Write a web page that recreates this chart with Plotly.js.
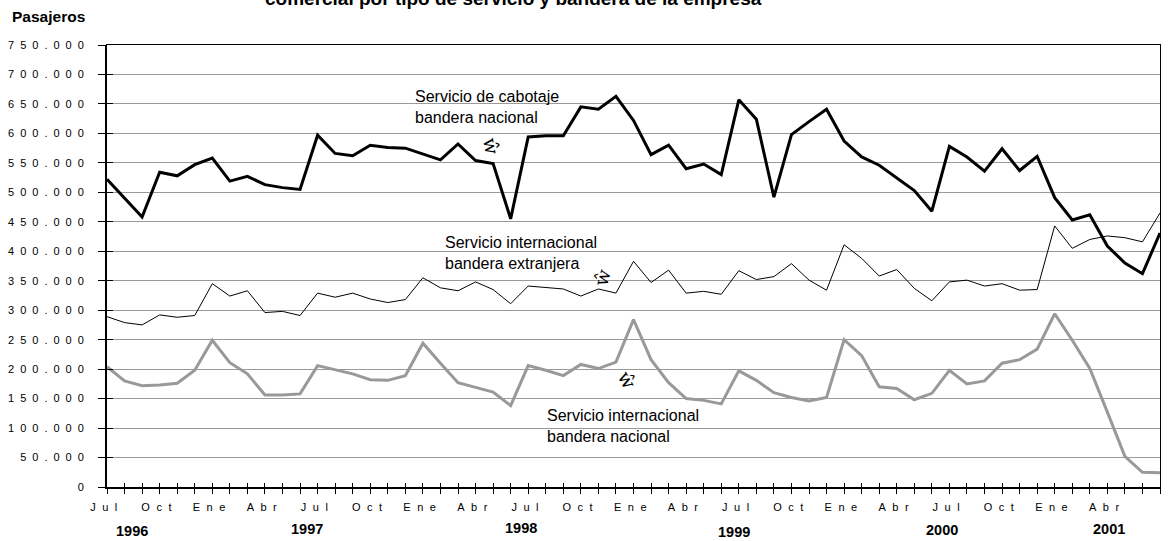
<!DOCTYPE html>
<html>
<head>
<meta charset="utf-8">
<script src="https://cdn.plot.ly/plotly-3.0.1.min.js"></script>
<style>
  html, body { margin:0; padding:0; background:#fff; }
  #chart { width:1172px; height:541px; }
  .xtick text { letter-spacing: 6.5px; }
  .ytick text { letter-spacing: 6px; }
</style>
</head>
<body>
<div id="chart"></div>
<script>
// ---- data (thousands of passengers) ----
// months: Jul 1996 ... Jul 2001 (61 months, index 0..60)
var monthIndex = [];
for (var m = 0; m <= 60; m++) monthIndex.push(m);

var tickPositions = [0,3,6,9,12,15,18,21,24,27,30,33,36,39,42,45,48,51,54,57,60];
var tickLabels = ["Jul","Oct","Ene","Abr","Jul","Oct","Ene","Abr","Jul","Oct","Ene",
                  "Abr","Jul","Oct","Ene","Abr","Jul","Oct","Ene","Abr","Jul"];

var yearLabels = ["1996","1997","1998","1999","2000","2001"];

var cabotajeNacional = [522,490,458,534,528,547,558,519,527,513,508,505,
                        597,566,562,580,576,575,565,555,582,554,549,455,
                        594,596,596,645,641,663,622,564,580,540,548,530,
                        657,624,492,598,620,641,587,560,546,524,503,468,
                        578,560,536,574,537,561,491,453,462,409,380,362,431];

var internacionalExtranjera = [289,279,275,292,288,291,345,324,333,296,298,291,
                               329,322,329,319,313,318,355,338,333,348,335,311,
                               341,338,336,324,336,329,383,347,368,329,332,327,
                               367,352,357,379,351,334,411,388,358,369,337,316,
                               348,351,341,345,334,335,443,405,420,426,423,416,465];

var internacionalNacional = [204,180,172,173,176,198,249,211,192,156,156,158,
                             206,199,192,182,181,189,244,210,177,169,161,138,
                             206,198,189,208,201,212,284,216,177,150,147,141,
                             197,181,160,152,146,152,250,223,170,167,148,159,
                             198,175,180,210,216,234,294,249,201,127,52,25,24];

var yTickValues = [0,50000,100000,150000,200000,250000,300000,350000,
                   400000,450000,500000,550000,600000,650000,700000,750000];

function toPax(arr){ return arr.map(function(v){ return v*1000; }); }
function fmt(v){
  if (v === 0) return "0";
  var s = String(v);
  return s.slice(0, s.length-3) + "." + s.slice(s.length-3);
}

var traces = [
  { x: monthIndex, y: toPax(internacionalNacional), mode:'lines',
    line:{color:'#999999', width:3}, hoverinfo:'skip', showlegend:false },
  { x: monthIndex, y: toPax(internacionalExtranjera), mode:'lines',
    line:{color:'#000000', width:1}, hoverinfo:'skip', showlegend:false },
  { x: monthIndex, y: toPax(cabotajeNacional), mode:'lines',
    line:{color:'#000000', width:3}, hoverinfo:'skip', showlegend:false },
  // helper so the overlay axes (inner half of the crossing ticks) render
  { x: monthIndex, y: toPax(cabotajeNacional), xaxis:'x2', yaxis:'y2', mode:'lines',
    line:{color:'rgba(0,0,0,0)', width:0}, hoverinfo:'skip', showlegend:false }
];

var tickFont = {family:'Liberation Sans, Arial, sans-serif', size:11, color:'#000'};

var yearPos = [1.4, 11.4, 23.6, 35.7, 47.6, 57.1];
var yearY = [-0.1, -0.096, -0.093, -0.102, -0.097, -0.095];

var annotations = [];
for (var k = 0; k < yearLabels.length; k++) {
  annotations.push({ x: yearPos[k], y: yearY[k], xref:'x', yref:'paper',
    text: yearLabels[k], showarrow:false, xanchor:'center', yanchor:'middle',
    font:{family:'Liberation Sans, Arial, sans-serif', size:14.5, weight:'bold', color:'#000'} });
}

var labelFont = {family:'Liberation Sans, Arial, sans-serif', size:16, color:'#000'};
annotations.push({ x:17.45, y:644000, xref:'x', yref:'y', showarrow:false,
  xanchor:'left', yanchor:'middle', align:'left',
  text:'Servicio de cabotaje<br>bandera nacional', font:labelFont });
annotations.push({ x:19.15, y:397000, xref:'x', yref:'y', showarrow:false,
  xanchor:'left', yanchor:'middle', align:'left',
  text:'Servicio internacional<br>bandera extranjera', font:labelFont });
annotations.push({ x:24.95, y:103500, xref:'x', yref:'y', showarrow:false,
  xanchor:'left', yanchor:'middle', align:'left',
  text:'Servicio internacional<br>bandera nacional', font:labelFont });

var symFont = {family:'DejaVu Serif, serif', size:19, color:'#000'};
annotations.push({ x:21.92, y:577500, xref:'x', yref:'y', showarrow:false,
  text:'\u0175', textangle:80, font:symFont });
annotations.push({ x:28.2, y:357000, xref:'x', yref:'y', showarrow:false,
  text:'\u0175', textangle:-75, font:symFont });
annotations.push({ x:29.65, y:182000, xref:'x', yref:'y', showarrow:false,
  text:'\u0175', textangle:60, font:symFont });

annotations.push({ x:-0.0921, y:1.0656, xref:'paper', yref:'paper', showarrow:false,
  xanchor:'left', yanchor:'middle', text:'Pasajeros',
  font:{family:'Liberation Sans, Arial, sans-serif', size:15.5, weight:'bold', color:'#000'} });

annotations.push({ x:0.3865, y:1.105, xref:'paper', yref:'paper', showarrow:false,
  xanchor:'center', yanchor:'middle',
  text:'comercial por tipo de servicio y bandera de la empresa',
  font:{family:'Liberation Sans, Arial, sans-serif', size:19, weight:'bold', color:'#000'} });

var layout = {
  width:1172, height:541,
  margin:{l:107, r:12, t:45, b:54, pad:0},
  paper_bgcolor:'#fff', plot_bgcolor:'#fff',
  showlegend:false,
  xaxis:{
    range:[0,60], tickmode:'array', tickvals:tickPositions, ticktext:tickLabels,
    ticks:'outside', ticklen:5, tickwidth:1, tickcolor:'#000',
    minor:{tickmode:'linear', tick0:0, dtick:1, ticks:'outside', ticklen:5, tickwidth:1, tickcolor:'#000', showgrid:false},
    showline:true, linecolor:'#000', linewidth:2,
    showgrid:false, zeroline:false, tickfont:tickFont, ticklabelstandoff:4, fixedrange:true
  },
  xaxis2:{
    overlaying:'x', anchor:'y', side:'bottom', range:[0,60],
    tickmode:'array', tickvals:tickPositions, showticklabels:false,
    ticks:'inside', ticklen:4, tickwidth:1, tickcolor:'#000',
    minor:{tickmode:'linear', tick0:0, dtick:1, ticks:'inside', ticklen:4, tickwidth:1, tickcolor:'#000', showgrid:false},
    showline:true, mirror:true, linecolor:'#000', linewidth:1,
    showgrid:false, zeroline:false, fixedrange:true
  },
  yaxis:{
    range:[0,750000], tickmode:'array', tickvals:yTickValues, ticktext:yTickValues.map(fmt),
    ticks:'outside', ticklen:7, tickwidth:1, tickcolor:'#000',
    showline:true, linecolor:'#000', linewidth:2,
    showgrid:true, gridcolor:'#9a9a9a', gridwidth:1,
    zeroline:false, tickfont:tickFont, ticklabelstandoff:6, fixedrange:true
  },
  yaxis2:{
    overlaying:'y', anchor:'x', side:'left', range:[0,750000],
    tickmode:'array', tickvals:yTickValues, showticklabels:false,
    ticks:'inside', ticklen:6, tickwidth:1, tickcolor:'#000',
    showline:true, mirror:true, linecolor:'#000', linewidth:1,
    showgrid:false, zeroline:false, fixedrange:true
  },
  annotations: annotations
};

Plotly.newPlot('chart', traces, layout, {displayModeBar:false, staticPlot:true});
</script>
</body>
</html>
